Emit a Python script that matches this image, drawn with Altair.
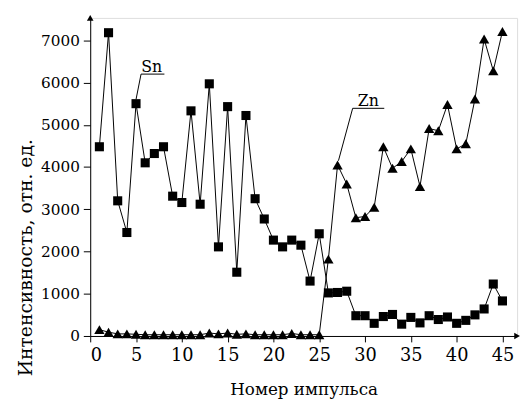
import altair as alt
import pandas as pd

pulse = list(range(1, 46))
sn = [4480, 7180, 3200, 2450, 5500, 4100, 4320, 4480, 3310, 3160,
      5330, 3120, 5970, 2110, 5430, 1510, 5220, 3250, 2770, 2270,
      2110, 2270, 2150, 1300, 2420, 1020, 1030, 1060, 480, 480,
      300, 460, 510, 280, 440, 310, 480, 390, 450, 300,
      370, 500, 640, 1230, 830]
zn = [150, 90, 50, 50, 40, 30, 30, 30, 30, 30,
      30, 30, 70, 50, 70, 40, 50, 30, 30, 30,
      30, 60, 30, 30, 30, 1820, 4050, 3600, 2800, 2830,
      3050, 4480, 3970, 4130, 4430, 3540, 4910, 4860, 5480, 4430,
      4550, 5610, 7030, 6280, 7210]

XMAX = 46.6
YMAX = 7530
FONT = "DejaVu Serif"

sn_df = pd.DataFrame({"x": pulse, "y": sn})
zn_df = pd.DataFrame({"x": pulse, "y": zn})

# annotation leader lines (data coords)
lead_x = [5.0, 5.55, 27.1, 28.65]
lead_y = [5600, 6200, 4150, 5390]
lead_x2 = [5.55, 8.1, 28.65, 32.1]
lead_y2 = [6200, 6200, 5390, 5390]
lab_text = ["Sn", "Zn"]
lab_x = [6.7, 30.35]
lab_y = [6260, 5450]

sc_x = alt.Scale(domain=[0, XMAX], nice=False, zero=False)
sc_y = alt.Scale(domain=[0, YMAX], nice=False)

xaxis = alt.Axis(values=[i * 2.5 for i in range(19)],
                 labelExpr="datum.value % 5 === 0 ? format(datum.value, 'd') : ''",
                 tickSize={"condition": {"test": "datum.value % 5 === 0", "value": 6}, "value": 3},
                 title="Номер импульса", titleFontSize=17,
                 titleFontWeight="normal", titleY=59, titleBaseline="alphabetic",
                 labelFontSize=18, labelPadding=5, grid=False)
yaxis = alt.Axis(values=[i * 500 for i in range(15)],
                 labelExpr="datum.value % 1000 === 0 ? format(datum.value, 'd') : ''",
                 tickSize={"condition": {"test": "datum.value % 1000 === 0", "value": 7}, "value": 4},
                 title="Интенсивность, отн. ед.", titleFontSize=19,
                 titleFontWeight="normal", titleX=-66, titleY=243, titleAngle=-90,
                 titleBaseline="middle", titleAlign="center",
                 labelFontSize=15.5, labelPadding=4, grid=False)

sn_line = alt.Chart(sn_df).mark_line(color="black", strokeWidth=1).encode(
    x=alt.X("x:Q", scale=sc_x, axis=xaxis),
    y=alt.Y("y:Q", scale=sc_y, axis=yaxis))
zn_line = alt.Chart(zn_df).mark_line(color="black", strokeWidth=1).encode(x="x:Q", y="y:Q")
sn_pts = alt.Chart(sn_df).mark_point(filled=True, opacity=1, color="black", shape="square", size=85).encode(
    x="x:Q", y="y:Q")
zn_pts = alt.Chart(zn_df).mark_point(filled=True, opacity=1, color="black", shape="triangle-up", size=110).encode(
    x="x:Q", y="y:Q")

lead_df = pd.DataFrame({"x": lead_x, "y": lead_y, "x2": lead_x2, "y2": lead_y2})
leads = alt.Chart(lead_df).mark_rule(color="black", strokeWidth=1).encode(
    x="x:Q", y="y:Q", x2="x2:Q", y2="y2:Q")

lab_df = pd.DataFrame({"x": lab_x, "y": lab_y, "t": lab_text})
labs = alt.Chart(lab_df).mark_text(font=FONT, fontSize=16, baseline="alphabetic", align="center", color="black").encode(
    x="x:Q", y="y:Q", text="t:N")

up_df = pd.DataFrame({"x": [0], "y": [YMAX]})
right_df = pd.DataFrame({"x": [XMAX], "y": [0]})
arr_up = alt.Chart(up_df).mark_point(filled=True, opacity=1, color="black", size=45, shape="triangle-up", clip=False).encode(
    x="x:Q", y="y:Q")
arr_right = alt.Chart(right_df).mark_point(filled=True, opacity=1, color="black", size=45, shape="triangle-right", clip=False).encode(
    x="x:Q", y="y:Q")

chart = alt.layer(sn_line, zn_line, leads, sn_pts, zn_pts, labs, arr_up, arr_right).properties(
    width=433.5, height=323,
    autosize=alt.AutoSizeParams(type="none"),
    padding={"left": 83.5, "top": 7, "right": 6, "bottom": 67},
    background="white",
).configure_view(stroke=None).configure(font=FONT).configure_axis(
    domainColor="black", domainWidth=1, tickColor="black", tickWidth=1,
    labelColor="black", titleColor="black", labelFont=FONT, titleFont=FONT,
)

chart.save("out.html", embed_options={"renderer": "svg", "actions": False})
